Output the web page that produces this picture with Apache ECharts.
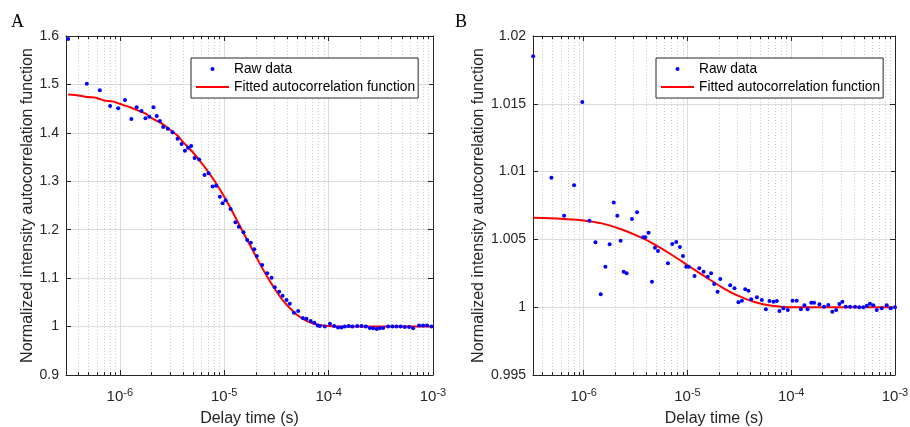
<!DOCTYPE html>
<html><head><meta charset="utf-8">
<script src="https://cdn.jsdelivr.net/npm/echarts@6/dist/echarts.min.js"></script>
<style>html,body{margin:0;padding:0;background:#fff}#c{width:910px;height:427px}</style>
</head><body><div id="c"></div>
<script>
// ---- Panel A data ----
const timeA = [3.2e-7, 4.83e-7, 6.43e-7, 8.07e-7, 9.64e-7, 1.12e-6, 1.29e-6, 1.45e-6, 1.61e-6, 1.76e-6,
  1.92e-6, 2.10e-6, 2.26e-6, 2.42e-6, 2.60e-6, 2.88e-6, 3.20e-6, 3.57e-6, 3.90e-6, 4.20e-6,
  4.51e-6, 4.82e-6, 5.20e-6, 5.75e-6, 6.47e-6, 7.08e-6, 7.73e-6, 8.36e-6, 9.08e-6, 9.64e-6,
  1.03e-5, 1.15e-5, 1.28e-5, 1.38e-5, 1.53e-5, 1.66e-5, 1.80e-5, 1.94e-5, 2.05e-5, 2.31e-5,
  2.58e-5, 2.84e-5, 3.05e-5, 3.36e-5, 3.62e-5, 3.95e-5, 4.25e-5, 4.65e-5, 5.11e-5, 5.66e-5,
  6.14e-5, 6.73e-5, 7.31e-5, 7.85e-5, 8.24e-5, 9.20e-5, 1.03e-4, 1.13e-4, 1.23e-4, 1.33e-4,
  1.43e-4, 1.56e-4, 1.69e-4, 1.88e-4, 2.07e-4, 2.27e-4, 2.48e-4, 2.67e-4, 2.88e-4, 3.09e-4,
  3.33e-4, 3.72e-4, 4.09e-4, 4.47e-4, 4.89e-4, 5.37e-4, 5.90e-4, 6.44e-4, 7.36e-4, 8.04e-4,
  8.77e-4, 9.68e-4];
const rawA = [1.594, 1.5015, 1.488, 1.4555, 1.451, 1.468, 1.4286, 1.4528, 1.4451, 1.430,
  1.4334, 1.4528, 1.4348, 1.4245, 1.4121, 1.4086, 1.4011, 1.388, 1.377, 1.363,
  1.369, 1.373, 1.348, 1.345, 1.313, 1.3165, 1.289, 1.291, 1.268, 1.2545,
  1.261, 1.243, 1.2153, 1.2063, 1.1946, 1.1788, 1.1732, 1.1595, 1.1457, 1.1272,
  1.110, 1.101, 1.0811, 1.072, 1.0638, 1.0549, 1.0473, 1.0286, 1.032, 1.0175,
  1.0163, 1.0115, 1.0077, 1.002, 1.0012, 1.000, 1.006, 1.001, 0.998, 0.998,
  1.000, 1.001, 1.000, 1.001, 1.001, 1.000, 0.997, 0.9965, 0.995, 0.9965,
  0.997, 1.000, 1.000, 1.000, 1.000, 0.999, 0.999, 0.9965, 1.002, 1.002,
  1.002, 1.000];
const fitTimeA = [3.2e-7, 4e-7, 5e-7, 6e-7, 7e-7, 8.5e-7, 1e-6, 1.25e-6, 1.5e-6, 1.75e-6, 2e-6, 2.5e-6,
  3e-6, 3.5e-6, 4e-6, 5e-6, 6e-6, 7e-6, 8e-6, 1e-5, 1.2e-5, 1.5e-5, 2e-5, 2.5e-5, 3e-5, 3.5e-5,
  4e-5, 5e-5, 6e-5, 7e-5, 8e-5, 1e-4, 1.25e-4, 1.5e-4, 2e-4, 1e-3];
const fitA = [1.479, 1.477, 1.474, 1.472, 1.467, 1.465, 1.460, 1.453, 1.446, 1.440, 1.431, 1.420,
  1.407, 1.396, 1.382, 1.360, 1.339, 1.320, 1.302, 1.268, 1.237, 1.197, 1.146, 1.108, 1.080, 1.059,
  1.044, 1.024, 1.013, 1.007, 1.004, 1.001, 1.0003, 1.000, 1.000, 1.000];

// ---- Panel B data ----
const timeB = [3.26e-7, 4.89e-7, 6.48e-7, 8.09e-7, 9.70e-7, 1.135e-6, 1.30e-6, 1.46e-6, 1.62e-6, 1.78e-6,
  1.95e-6, 2.11e-6, 2.27e-6, 2.43e-6, 2.59e-6, 2.92e-6, 3.27e-6, 3.75e-6, 3.93e-6, 4.22e-6,
  4.55e-6, 4.86e-6, 5.20e-6, 6.49e-6, 7.14e-6, 7.80e-6, 8.47e-6, 9.06e-6, 9.73e-6, 1.03e-5,
  1.17e-5, 1.30e-5, 1.43e-5, 1.57e-5, 1.69e-5, 1.81e-5, 1.95e-5, 2.07e-5, 2.58e-5, 2.84e-5,
  3.10e-5, 3.35e-5, 3.60e-5, 3.87e-5, 4.11e-5, 4.67e-5, 5.21e-5, 5.70e-5, 6.17e-5, 6.75e-5,
  7.27e-5, 7.70e-5, 8.41e-5, 9.27e-5, 1.03e-4, 1.13e-4, 1.24e-4, 1.34e-4, 1.44e-4, 1.56e-4,
  1.66e-4, 1.87e-4, 2.07e-4, 2.28e-4, 2.49e-4, 2.71e-4, 2.91e-4, 3.11e-4, 3.35e-4, 3.69e-4,
  4.12e-4, 4.53e-4, 4.95e-4, 5.35e-4, 5.74e-4, 6.18e-4, 6.67e-4, 7.45e-4, 8.32e-4, 9.09e-4,
  1.0e-3];
const rawB = [1.0185, 1.00955, 1.00675, 1.00899, 1.01513, 1.00638, 1.00479, 1.00095, 1.00299, 1.00464,
  1.00773, 1.00675, 1.00490, 1.00262, 1.00251, 1.0065, 1.0070, 1.00515, 1.00515, 1.00549,
  1.00188, 1.00439, 1.00414, 1.00324, 1.00466, 1.00481, 1.00444, 1.00378, 1.00299, 1.00299,
  1.00230, 1.00287, 1.00262, 1.00225, 1.00250, 1.00171, 1.00114, 1.00208, 1.00161, 1.00139,
  1.00036, 1.00048, 1.00132, 1.00122, 1.00058, 1.00073, 1.00053, 0.99984, 1.00046, 1.00041,
  1.00046, 0.99972, 0.99992, 0.99979, 1.00048, 1.00048, 0.99985, 1.00014, 0.99985, 1.00033,
  1.00033, 1.00021, 1.00004, 1.00016, 0.99967, 0.99979, 1.00024, 1.00041, 1.00004, 1.00004,
  1.00004, 1.0, 1.0, 1.0001, 1.00026, 1.00014, 0.99979, 0.99992, 1.00014, 0.99992,
  1.0];
const fitTimeB = [3.26e-7, 6e-7, 1e-6, 1.5e-6, 2.3e-6, 3.6e-6, 4.9e-6, 7.1e-6, 1.03e-5, 1.48e-5,
  2.15e-5, 3.1e-5, 4.5e-5, 6.5e-5, 9.4e-5, 2e-4, 1e-3];
const fitB = [1.00660, 1.00653, 1.00640, 1.00618, 1.00575, 1.00513, 1.00459, 1.00385, 1.00304, 1.00225,
  1.00147, 1.00083, 1.00036, 1.00010, 1.00000, 1.00000, 1.00000];

// ---- axes ----
const xMinA = 3.05e-7, xMinB = 3.25e-7, xMax = 1e-3;
const yMinA = 0.9, yMaxA = 1.6, yStepA = 0.1;
const yMinB = 0.995, yMaxB = 1.02, yStepB = 0.005;
const minorMantissas = [2, 3, 4, 5, 6, 7, 8, 9];
const minorDecades = [-7, -6, -5, -4];
const xTitle = 'Delay time (s)';
const yTitle = 'Normalized intensity autocorrelation function';
const seriesNames = ['Raw data', 'Fitted autocorrelation function'];

const FF = '"Liberation Sans", Arial, Helvetica, sans-serif';
const INK = '#262626';

function minorList(xmin) {
  const out = [];
  minorDecades.forEach(d => minorMantissas.forEach(m => {
    const v = m * Math.pow(10, d);
    if (v > xmin && v < xMax) out.push(v);
  }));
  return out;
}
function powLabel(v) {
  const e = Math.log10(v), r = Math.round(e);
  if (Math.abs(e - r) > 1e-6) return '';
  return '{b|10}{s|' + r + '}';
}
function xAxes(grid, xmin) {
  return [{
    type: 'log', logBase: 10, gridIndex: grid, min: xmin, max: xMax, splitNumber: 4, position: 'bottom',
    name: xTitle, nameLocation: 'middle', nameGap: 36,
    nameTextStyle: { fontSize: 16, color: INK, fontFamily: FF },
    axisLine: { show: true, lineStyle: { color: INK, width: 1 } },
    axisTick: { show: true, inside: true, length: 5, lineStyle: { color: INK } },
    axisLabel: {
      formatter: powLabel, margin: 12, color: INK,
      rich: {
        b: { fontSize: 15, fontFamily: FF, color: INK, verticalAlign: 'bottom', lineHeight: 17 },
        s: { fontSize: 11, fontFamily: FF, color: INK, verticalAlign: 'bottom', lineHeight: 11, padding: [0, 0, 6, 0] }
      }
    },
    splitLine: { show: true, lineStyle: { color: '#dcdcdc', width: 1 } }
  }, {
    type: 'log', logBase: 10, gridIndex: grid, min: xmin, max: xMax, splitNumber: 4, position: 'top',
    axisLine: { show: true, lineStyle: { color: INK, width: 1 } },
    axisTick: { show: true, inside: true, length: 5, lineStyle: { color: INK } },
    axisLabel: { show: false }, splitLine: { show: false }
  }];
}
function yAxes(grid, ymin, ymax, step, gap) {
  return [{
    type: 'value', gridIndex: grid, min: ymin, max: ymax, interval: step, position: 'left',
    name: yTitle, nameLocation: 'middle', nameGap: gap, nameRotate: 90,
    nameTextStyle: { fontSize: 16, color: INK, fontFamily: FF },
    axisLine: { show: true, lineStyle: { color: INK, width: 1 } },
    axisTick: { show: true, inside: true, length: 5, lineStyle: { color: INK } },
    axisLabel: { fontSize: 14, color: INK, fontFamily: FF, margin: 7 },
    splitLine: { show: true, lineStyle: { color: '#dcdcdc', width: 1 } }
  }, {
    type: 'value', gridIndex: grid, min: ymin, max: ymax, interval: step, position: 'right',
    axisLine: { show: true, lineStyle: { color: INK, width: 1 } },
    axisTick: { show: true, inside: true, length: 5, lineStyle: { color: INK } },
    axisLabel: { show: false }, splitLine: { show: false }
  }];
}
function minorSeries(ax, xmin, ymin) {
  return {
    type: 'custom', xAxisIndex: ax, yAxisIndex: ax, silent: true, z: 1, clip: false,
    data: minorList(xmin).map(v => [v, ymin]),
    renderItem: function (params, api) {
      const cs = params.coordSys;
      const x = Math.round(api.coord([api.value(0), api.value(1)])[0]) + 0.5;
      const top = cs.y, bot = cs.y + cs.height;
      return { type: 'group', children: [
        { type: 'line', shape: { x1: x, y1: top, x2: x, y2: bot }, style: { stroke: '#cfcfcf', lineWidth: 1, lineDash: [1, 2] } },
        { type: 'line', shape: { x1: x, y1: bot, x2: x, y2: bot - 3 }, style: { stroke: INK, lineWidth: 1 } },
        { type: 'line', shape: { x1: x, y1: top, x2: x, y2: top + 3 }, style: { stroke: INK, lineWidth: 1 } }
      ] };
    }
  };
}
function dataSeries(ax, times, raw, fitT, fit) {
  return [{
    name: seriesNames[0], type: 'scatter', xAxisIndex: ax, yAxisIndex: ax, z: 4,
    symbol: 'circle', symbolSize: 4, itemStyle: { color: '#0000ff', opacity: 1 },
    data: times.map((t, i) => [t, raw[i]])
  }, {
    name: seriesNames[1], type: 'line', xAxisIndex: ax, yAxisIndex: ax, z: 3,
    symbol: 'none', smooth: 0.25, lineStyle: { color: '#ff0000', width: 2 }, itemStyle: { color: '#ff0000' },
    data: fitT.map((t, i) => [t, fit[i]])
  }];
}
function legend(left) {
  return {
    orient: 'vertical', left: left, top: 58, padding: [3, 3, 3, 4], itemGap: 2,
    itemWidth: 33, itemHeight: 4, backgroundColor: '#fff', borderColor: INK, borderWidth: 1,
    textStyle: { fontSize: 13.75, color: '#000', fontFamily: FF, lineHeight: 16 },
    data: [
      { name: seriesNames[0], icon: 'circle', itemStyle: { color: '#0000ff', opacity: 1 } },
      { name: seriesNames[1], itemStyle: { opacity: 0 } }
    ],
    selectedMode: false
  };
}

const chart = echarts.init(document.getElementById('c'), null, { renderer: 'canvas' });
chart.setOption({
  animation: false,
  backgroundColor: '#fff',
  graphic: [
    { type: 'text', left: 11, top: 13, style: { text: 'A', font: '18px "Liberation Serif", "Times New Roman", serif', fill: '#000' } },
    { type: 'text', left: 455, top: 13, style: { text: 'B', font: '18px "Liberation Serif", "Times New Roman", serif', fill: '#000' } }
  ],
  legend: [legend(191), legend(656)],
  grid: [
    { left: 66, top: 36, width: 367, height: 339, outerBoundsMode: 'none', containLabel: false },
    { left: 533, top: 36, width: 362, height: 339, outerBoundsMode: 'none', containLabel: false }
  ],
  xAxis: [...xAxes(0, xMinA), ...xAxes(1, xMinB)],
  yAxis: [...yAxes(0, yMinA, yMaxA, yStepA, 27), ...yAxes(1, yMinB, yMaxB, yStepB, 46)],
  series: [
    minorSeries(0, xMinA, yMinA),
    minorSeries(2, xMinB, yMinB),
    ...dataSeries(0, timeA, rawA, fitTimeA, fitA),
    ...dataSeries(2, timeB, rawB, fitTimeB, fitB)
  ]
});
</script>
</body></html>
